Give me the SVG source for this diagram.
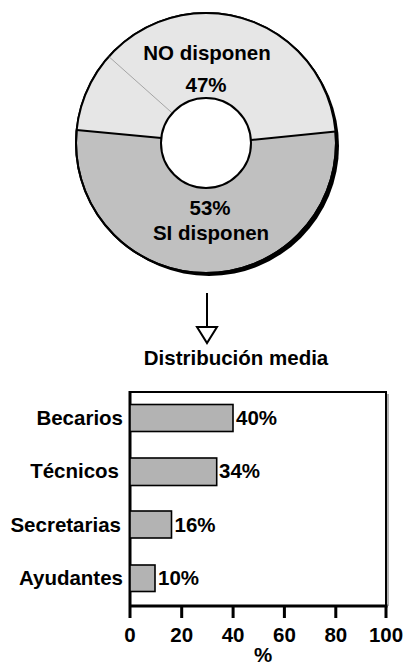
<svg xmlns="http://www.w3.org/2000/svg" width="403" height="668" viewBox="0 0 403 668">
<style>
text{font-family:"Liberation Sans",Arial,sans-serif;font-weight:bold;font-size:20.5px;fill:#000}
.m{text-anchor:middle}
.e{text-anchor:end}
.bar{fill:#b3b3b3;stroke:#000;stroke-width:1.6}
.ax{stroke:#000;stroke-width:3;fill:none}
.fr{stroke:#000;stroke-width:2;fill:none}
</style>
<rect width="403" height="668" fill="#fff"/>
<g id="donut">
<circle cx="209" cy="146" r="130" fill="#000"/>
<circle cx="206" cy="143" r="130" fill="#c0c0c0" stroke="#000" stroke-width="2"/>
<path d="M76.6 130.1 A130 130 0 0 1 335.5 131.5 L250.9 140 A45 45 0 0 0 161.3 138 Z" fill="#e6e6e6"/>
<circle cx="206" cy="143" r="130" fill="none" stroke="#000" stroke-width="2"/>
<line x1="76.6" y1="130.1" x2="161.3" y2="138" stroke="#000" stroke-width="2"/>
<line x1="250.9" y1="140" x2="335.5" y2="131.5" stroke="#000" stroke-width="2"/>
<line x1="108.8" y1="56.6" x2="172.3" y2="113.1" stroke="#888" stroke-width="0.7"/>
<circle cx="206" cy="143" r="45" fill="#fff" stroke="#000" stroke-width="2"/>
<text class="m" x="207" y="60">NO disponen</text>
<text class="m" x="206" y="92">47%</text>
<text class="m" x="210" y="215">53%</text>
<text class="m" x="211" y="240">SI disponen</text>
</g>
<g id="connectors">
<line x1="207" y1="293" x2="207" y2="327" stroke="#000" stroke-width="2"/>
<polygon points="197,327 217,327 207,343" fill="#fff" stroke="#000" stroke-width="2"/>
</g>
<g id="chart">
<text class="m" x="236" y="365">Distribución media</text>
<line x1="388" y1="394" x2="388" y2="606" stroke="#999" stroke-width="1.5"/>
<path class="fr" d="M130 392 H386 V606"/>
<path class="ax" d="M130 391 V618 M128.5 606 H387.5"/>
<path class="ax" d="M181.7 606 V618 M233.1 606 V618 M284.4 606 V618 M335.8 606 V618 M386 606 V618"/>
<g id="bar-becarios"><rect class="bar" x="130" y="404.5" width="103" height="27"/><text class="e" x="123" y="425">Becarios</text><text x="236" y="425">40%</text></g>
<g id="bar-tecnicos"><rect class="bar" x="130" y="458" width="86.7" height="27.5"/><text class="e" x="119" y="478">Técnicos</text><text x="219" y="478">34%</text></g>
<g id="bar-secretarias"><rect class="bar" x="130" y="511" width="41.5" height="27"/><text class="e" x="121" y="531.5">Secretarias</text><text x="174.5" y="531.5">16%</text></g>
<g id="bar-ayudantes"><rect class="bar" x="130" y="565" width="25" height="26.5"/><text class="e" x="123" y="585">Ayudantes</text><text x="158" y="585">10%</text></g>
<text class="m" x="130" y="642">0</text>
<text class="m" x="181.7" y="642">20</text>
<text class="m" x="233.1" y="642">40</text>
<text class="m" x="284.4" y="642">60</text>
<text class="m" x="335.8" y="642">80</text>
<text class="m" x="386" y="642">100</text>
<text class="m" x="263" y="662">%</text>
</g>
</svg>
